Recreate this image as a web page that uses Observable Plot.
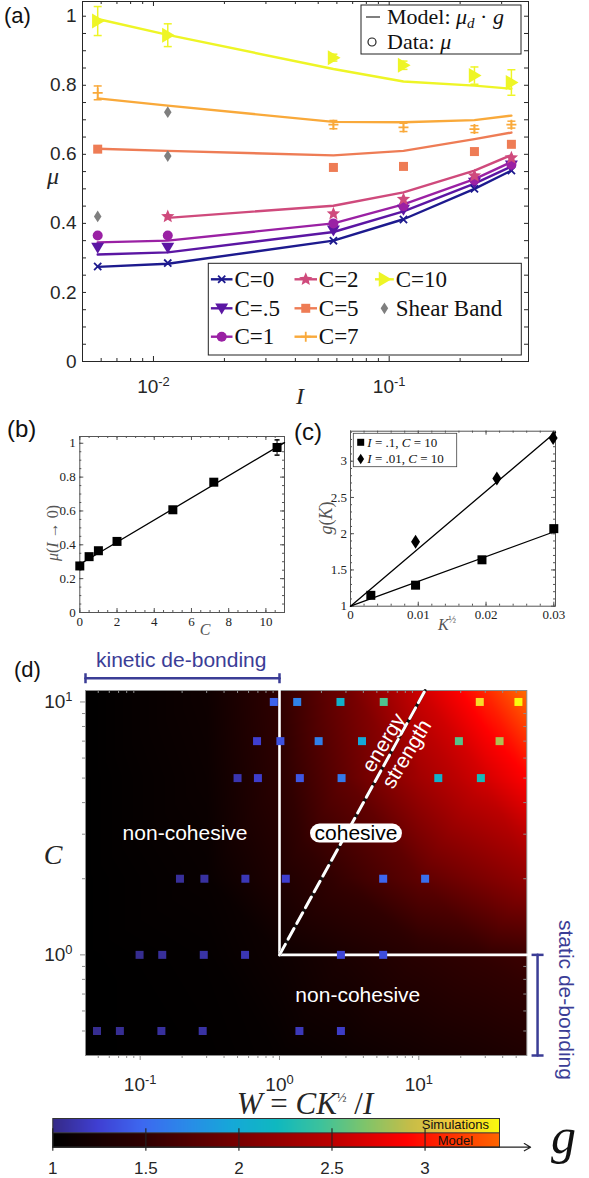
<!DOCTYPE html>
<html><head><meta charset="utf-8">
<script src="https://cdn.jsdelivr.net/npm/d3@7"></script>
<script src="https://cdn.jsdelivr.net/npm/@observablehq/plot@0.6"></script>
<style>
html,body{margin:0;padding:0;background:#fff;}
#root{position:relative;width:589px;height:1178px;overflow:hidden;background:#fff;}
.layer{position:absolute;left:0;width:589px;}
.layer svg{display:block;overflow:visible;}
</style></head>
<body><div id="root"></div>
<script>
// ================= DATA =================
// Panel (a): friction coefficient vs inertial number
const inertialI = [0.0058, 0.0115, 0.058, 0.115, 0.23, 0.33];
const modelC0  = [0.274, 0.283, 0.350, 0.412, 0.500, 0.553];
const modelC05 = [0.310, 0.316, 0.375, 0.435, 0.515, 0.565];
const modelC1  = [0.345, 0.350, 0.400, 0.455, 0.528, 0.578];
const modelC2  = [null, 0.416, 0.451, 0.490, 0.553, 0.598];
const modelC5  = [0.616, 0.610, 0.597, 0.610, 0.644, 0.663];
const modelC7  = [0.762, 0.741, 0.694, 0.693, 0.699, 0.712];
const modelC10 = [0.992, 0.946, 0.847, 0.811, 0.799, 0.790];
const dataC0  = [0.275, 0.285, 0.350, 0.411, 0.500, 0.553];
const dataC05 = [0.330, 0.330, 0.380, 0.440, 0.518, 0.568];
const dataC1  = [0.365, 0.365, 0.400, 0.450, 0.525, 0.570];
const dataC2  = [null, 0.420, 0.428, 0.470, 0.538, 0.590];
const dataC5  = [0.615, null, 0.562, 0.565, 0.608, 0.629];
const dataC7  = [0.778, null, 0.686, 0.678, 0.673, 0.686];
const dataC10 = [0.986, 0.945, 0.880, 0.858, 0.828, 0.808];
const errC7   = [0.020, null, 0.012, 0.012, 0.010, 0.010];
const errC10  = [0.042, 0.033, 0.010, 0.012, 0.025, 0.037];
const shearBandI  = [0.0058, 0.0115, 0.0115];
const shearBandMu = [0.420, 0.595, 0.722];
const seriesLabels = ["C=0", "C=.5", "C=1", "C=2", "C=5", "C=7", "C=10"];
const seriesColors = ["#1d1a8e", "#5b16a3", "#9a21a4", "#cf4a7c", "#ee7c55", "#f9a93a", "#eef526"];
const aTickLabelsY = [0, 0.2, 0.4, 0.6, 0.8, 1];
const aTickLabelsX = [0.01, 0.1];

// Panel (b): mu(I->0) vs C
const cohesionB = [0, 0.5, 1, 2, 5, 7.2, 10.6];
const muZeroB   = [0.275, 0.330, 0.365, 0.420, 0.607, 0.770, 0.975];
const muZeroErrB = [0, 0, 0, 0, 0, 0, 0.045];
const fitLineBC  = [0, 11];
const fitLineBMu = [0.285, 1.004];
const bTickLabelsX = [0, 2, 4, 6, 8, 10];
const bTickLabelsY = [0, 0.2, 0.4, 0.6, 0.8, 1];

// Panel (c): g(K) vs K^(1/2)
const sqrtKSquares  = [0.003, 0.0096, 0.0194, 0.0300];
const gSquares      = [1.15, 1.29, 1.64, 2.07];
const sqrtKDiamonds = [0.0096, 0.0216, 0.0299];
const gDiamonds     = [1.89, 2.76, 3.32];
const fitSqrtK      = [0, 0.03025];
const fitGSquares   = [1, 2.034];
const fitGDiamonds  = [1, 3.40];
const cTickLabelsX = [0, 0.01, 0.02, 0.03];
const cTickLabelsY = [1, 1.5, 2, 2.5, 3];

// Panel (d): simulations (squares) in the W-C plane
const simW = [0.91, 1.34, 2.74, 5.6, 27.4, 51.9,
              0.69, 1.015, 1.91, 3.91, 19.4, 38,
              0.50, 0.70, 1.40, 2.79, 13.8, 27.9,
              0.193, 0.289, 0.569, 1.11, 5.55, 11.1,
              0.099, 0.144, 0.286, 0.566, 2.76, 5.55,
              0.049, 0.0715, 0.142, 0.281, 1.39, 2.76];
const simC = [10, 10, 10, 10, 10, 10,
              7, 7, 7, 7, 7, 7,
              5, 5, 5, 5, 5, 5,
              2, 2, 2, 2, 2, 2,
              1, 1, 1, 1, 1, 1,
              0.5, 0.5, 0.5, 0.5, 0.5, 0.5];
const simG = [1.45, 1.66, 2.10, 2.50, 3.25, 3.55,
              1.23, 1.35, 1.65, 1.96, 2.53, 2.84,
              1.13, 1.22, 1.38, 1.60, 2.09, 2.24,
              1.06, 1.08, 1.15, 1.23, 1.47, 1.53,
              1.03, 1.06, 1.10, 1.14, 1.28, 1.33,
              1.03, 1.04, 1.07, 1.09, 1.16, 1.20];
// Model background g(W, C), read on a coarse grid
const modelGridW = [0.04, 0.3, 1, 3, 10, 30, 60];
const modelGridC = [0.4, 1, 2, 5, 11.2];
const modelGridG_C04 = [1.00, 1.02, 1.06, 1.12, 1.20, 1.27, 1.32];
const modelGridG_C1  = [1.00, 1.04, 1.14, 1.28, 1.42, 1.52, 1.58];
const modelGridG_C2  = [1.00, 1.08, 1.32, 1.56, 1.82, 2.05, 2.20];
const modelGridG_C5  = [1.00, 1.12, 1.45, 1.85, 2.30, 2.65, 2.90];
const modelGridG_C11 = [1.00, 1.15, 1.50, 1.95, 2.60, 3.10, 3.45];
// phase boundaries
const boundaryW = [1, 1, 59.6];
const boundaryC = [11.1, 1, 1];
const energyStrengthW = [1, 11.1];
const energyStrengthC = [1, 11.1];
const regionLabels = ["non-cohesive", "non-cohesive", "energy", "strength"];
const regionLabelW = [0.21, 3.65, 5.6, 8.18];
const regionLabelC = [3.03, 0.69, 6.9, 6.23];
const cohesiveLabelW = 3.54, cohesiveLabelC = 3.03;
const kineticW = [0.0405, 1], kineticC = [12.41, 12.41];
const staticW = [71.2, 71.2], staticC = [1, 0.4];
const dTickLabelsX = [0.1, 1, 10];
const dTickLabelsY = [1, 10];

// Colour bar
const cbTickLabels = [1, 1.5, 2, 2.5, 3];
const parulaRange = ["#352a87","#3f3fd2","#3d68f0","#2a8ae8","#16a8d8","#0fb8c0","#3dc29c","#80c46a","#c6bd48","#f5c83a","#f9fb0e"];
const modelDomain = [1, 1.5, 2, 2.5, 2.9, 3.4];
const modelRange = ["#000000", "#300000", "#780000", "#bc0000", "#ff0000", "#ff6600"];

// ================= HELPERS =================
const SANS = "Liberation Sans, Arial, Helvetica, sans-serif";
const SERIF = "Liberation Serif, Times New Roman, serif";
const INK = "#262626";
const BRACKET = "#3b3d96";
const NS = "http://www.w3.org/2000/svg";
const root = document.getElementById("root");
const parulaDomain = parulaRange.map((_, i) => 1 + 2.4 * i / (parulaRange.length - 1));

function supify(node) {
  node.querySelectorAll("text").forEach(t => {
    const m = /^10\^(-?\d+)$/.exec(t.textContent);
    if (!m) return;
    while (t.firstChild) t.removeChild(t.firstChild);
    const a = document.createElementNS(NS, "tspan"); a.textContent = "10";
    const b = document.createElementNS(NS, "tspan"); b.textContent = m[1];
    b.setAttribute("dy", "-0.55em"); b.setAttribute("font-size", "0.68em");
    t.append(a, b);
  });
}
function place(svg, top) {
  const d = document.createElement("div");
  d.className = "layer"; d.style.top = top + "px";
  d.appendChild(svg); root.appendChild(d); supify(svg);
}
const sym = f => ({draw(c, size) { f(c, Math.sqrt(size / Math.PI)); }});
const symTriDown = sym((c, r) => { c.moveTo(-r, -0.75 * r); c.lineTo(r, -0.75 * r); c.lineTo(0, 0.95 * r); c.closePath(); });
const symTriRight = sym((c, r) => { c.moveTo(-0.75 * r, -r); c.lineTo(-0.75 * r, r); c.lineTo(0.95 * r, 0); c.closePath(); });
const symSquare = sym((c, r) => { c.rect(-r, -r, 2 * r, 2 * r); });
const symDiamond = sym((c, r) => { c.moveTo(0, -1.4 * r); c.lineTo(0.9 * r, 0); c.lineTo(0, 1.4 * r); c.lineTo(-0.9 * r, 0); c.closePath(); });
const symStar = sym((c, r) => { for (let k = 0; k < 10; k++) { const a = -Math.PI / 2 + k * Math.PI / 5, rr = k % 2 ? 0.45 * r : r; const x = rr * Math.cos(a), y = rr * Math.sin(a); if (k) c.lineTo(x, y); else c.moveTo(x, y); } c.closePath(); });
const symTimes = sym((c, r) => { c.moveTo(-r, -r); c.lineTo(r, r); c.moveTo(-r, r); c.lineTo(r, -r); });
const symPlus = sym((c, r) => { c.moveTo(-r, 0); c.lineTo(r, 0); c.moveTo(0, -r); c.lineTo(0, r); });
const symCircle = sym((c, r) => { c.moveTo(r, 0); c.arc(0, 0, r, 0, 2 * Math.PI); });
const symHLine = sym((c, r) => { c.moveTo(-r, 0); c.lineTo(r, 0); });
const symVLine = sym((c, r) => { c.moveTo(0, -r); c.lineTo(0, r); });
const symRoundBox = {draw(c) { const w = 46, h = 9.5, q = 9.5; c.moveTo(-w + q, -h); c.lineTo(w - q, -h); c.arcTo(w, -h, w, 0, q); c.arcTo(w, h, w - q, h, q); c.lineTo(-w + q, h); c.arcTo(-w, h, -w, 0, q); c.arcTo(-w, -h, -w + q, -h, q); c.closePath(); }};

function logMinor(lo, hi) { const out = []; for (let e = -3; e <= 2; e++) for (let k = 2; k <= 9; k++) { const v = +(k * Math.pow(10, e)).toPrecision(6); if (v > lo * 1.0001 && v < hi * 0.9999) out.push(v); } return out; }
function linTicks(lo, hi, step) { const out = []; const n = Math.round((hi - lo) / step); for (let i = 0; i <= n; i++) out.push(+(lo + i * step).toFixed(6)); return out; }
const rowsOf = (xs, ys, extra) => xs.map((x, i) => ({x, y: ys[i], e: extra ? extra[i] : null})).filter(d => d.y != null);
const lab = d => "10^" + Math.round(Math.log10(d));

// ================= PANEL (a) =================
const aW = 589 - 82 - 61, aH = 410 - 1 - 49;
const aSym = [symTimes, symTriDown, symCircle, symStar, symSquare, symPlus, symTriRight];
const aR = [3.6, 6.5, 5, 7, 4.5, 5, 7.5];
const aStroked = [true, false, false, false, false, true, false];
const aModels = [modelC0, modelC05, modelC1, modelC2, modelC5, modelC7, modelC10];
const aData = [dataC0, dataC05, dataC1, dataC2, dataC5, dataC7, dataC10];
const aMinorX = logMinor(0.005, 0.39);
const aTicksY = linTicks(0, 1.0, 0.05);
const marksA = [
  Plot.tickX(aMinorX, {x: d => d, insetTop: aH - 3, stroke: INK}),
  Plot.tickX(aMinorX, {x: d => d, insetBottom: aH - 3, stroke: INK}),
  Plot.tickX(aTickLabelsX, {x: d => d, insetTop: aH - 5, stroke: INK}),
  Plot.tickX(aTickLabelsX, {x: d => d, insetBottom: aH - 5, stroke: INK}),
  Plot.tickY(aTicksY, {y: d => d, insetRight: aW - 4, stroke: INK}),
  Plot.tickY(aTicksY, {y: d => d, insetLeft: aW - 4, stroke: INK}),
  Plot.frame({stroke: INK, strokeWidth: 1}),
  Plot.axisX(aTickLabelsX, {tickSize: 0, tickPadding: 18, fontSize: 19, label: null, tickFormat: lab}),
  Plot.axisY(aTickLabelsY, {tickSize: 0, tickPadding: 6, fontSize: 19, label: null, tickFormat: d => String(d)})
];
aModels.forEach((m, k) => marksA.push(Plot.line(rowsOf(inertialI, m), {x: "x", y: "y", stroke: seriesColors[k], strokeWidth: 2.4})));
[[dataC7, errC7, 5], [dataC10, errC10, 6]].forEach(([d, e, k]) => {
  const rows = rowsOf(inertialI, d, e).filter(r => r.e);
  marksA.push(Plot.ruleX(rows, {x: "x", y1: r => r.y - r.e, y2: r => r.y + r.e, stroke: seriesColors[k], strokeWidth: 1.5}));
  marksA.push(Plot.dot(rows, {x: "x", y: r => r.y - r.e, symbol: symHLine, r: 4, stroke: seriesColors[k], strokeWidth: 1.5}));
  marksA.push(Plot.dot(rows, {x: "x", y: r => r.y + r.e, symbol: symHLine, r: 4, stroke: seriesColors[k], strokeWidth: 1.5}));
});
marksA.push(Plot.dot(rowsOf(shearBandI, shearBandMu), {x: "x", y: "y", symbol: symDiamond, r: 4.2, fill: "#7f7f7f"}));
aData.forEach((d, k) => marksA.push(Plot.dot(rowsOf(inertialI, d), aStroked[k]
  ? {x: "x", y: "y", symbol: aSym[k], r: aR[k], stroke: seriesColors[k], strokeWidth: 1.8, fill: "none"}
  : {x: "x", y: "y", symbol: aSym[k], r: aR[k], fill: seriesColors[k], stroke: "none"})));
place(Plot.plot({
  width: 589, height: 410, marginLeft: 82, marginRight: 61, marginTop: 1, marginBottom: 49,
  style: {background: "transparent", overflow: "visible", fontFamily: SANS, color: INK},
  x: {type: "log", domain: [0.005, 0.39]}, y: {domain: [0, 1.0426]},
  marks: marksA
}), 0);

// ================= PANEL (b) =================
const bW = 589 - 79.3 - 305, bH = 225 - 21 - 28;
const bRows = rowsOf(cohesionB, muZeroB, muZeroErrB);
place(Plot.plot({
  width: 589, height: 225, marginLeft: 79.3, marginRight: 305, marginTop: 21, marginBottom: 28,
  style: {background: "transparent", overflow: "visible", fontFamily: SERIF, color: "#222"},
  x: {domain: [0, 11]}, y: {domain: [0, 1.04]},
  marks: [
    Plot.tickX(linTicks(0, 11, 0.5), {x: d => d, insetTop: bH - 2, stroke: "#555"}),
    Plot.tickX(linTicks(0, 11, 0.5), {x: d => d, insetBottom: bH - 2, stroke: "#555"}),
    Plot.tickX(bTickLabelsX, {x: d => d, insetTop: bH - 4, stroke: "#555"}),
    Plot.tickX(bTickLabelsX, {x: d => d, insetBottom: bH - 4, stroke: "#555"}),
    Plot.tickY(linTicks(0, 1.0, 0.05), {y: d => d, insetRight: bW - 2, stroke: "#555"}),
    Plot.tickY(linTicks(0, 1.0, 0.05), {y: d => d, insetLeft: bW - 2, stroke: "#555"}),
    Plot.tickY(bTickLabelsY, {y: d => d, insetRight: bW - 4, stroke: "#555"}),
    Plot.tickY(bTickLabelsY, {y: d => d, insetLeft: bW - 4, stroke: "#555"}),
    Plot.frame({stroke: "#555"}),
    Plot.axisX(bTickLabelsX, {tickSize: 0, tickPadding: 4, fontSize: 13, label: null, tickFormat: d => String(d)}),
    Plot.axisY(bTickLabelsY, {tickSize: 0, tickPadding: 4, fontSize: 13, label: null, tickFormat: d => String(d)}),
    Plot.line(rowsOf(fitLineBC, fitLineBMu), {x: "x", y: "y", stroke: "#000", strokeWidth: 1.3}),
    Plot.ruleX(bRows.filter(r => r.e), {x: "x", y1: r => r.y - r.e, y2: r => r.y + r.e, stroke: "#000"}),
    Plot.dot(bRows.filter(r => r.e), {x: "x", y: r => r.y - r.e, symbol: symHLine, r: 2.5, stroke: "#000"}),
    Plot.dot(bRows.filter(r => r.e), {x: "x", y: r => r.y + r.e, symbol: symHLine, r: 2.5, stroke: "#000"}),
    Plot.dot(bRows, {x: "x", y: "y", symbol: symSquare, r: 4.5, fill: "#000", stroke: "none"})
  ]
}), 415);

// ================= PANEL (c) =================
const cW = 589 - 350 - 34, cH = 225 - 15.7 - 34.3;
place(Plot.plot({
  width: 589, height: 225, marginLeft: 350, marginRight: 34, marginTop: 15.7, marginBottom: 34.3,
  style: {background: "transparent", overflow: "visible", fontFamily: SERIF, color: "#222"},
  x: {domain: [0, 0.03025]}, y: {domain: [1, 3.414]},
  marks: [
    Plot.tickX(linTicks(0, 0.03, 0.002), {x: d => d, insetTop: cH - 2, stroke: "#555"}),
    Plot.tickX(linTicks(0, 0.03, 0.002), {x: d => d, insetBottom: cH - 2, stroke: "#555"}),
    Plot.tickX(cTickLabelsX, {x: d => d, insetTop: cH - 4, stroke: "#555"}),
    Plot.tickX(cTickLabelsX, {x: d => d, insetBottom: cH - 4, stroke: "#555"}),
    Plot.tickY(linTicks(1, 3.4, 0.1), {y: d => d, insetRight: cW - 2, stroke: "#555"}),
    Plot.tickY(linTicks(1, 3.4, 0.1), {y: d => d, insetLeft: cW - 2, stroke: "#555"}),
    Plot.tickY(cTickLabelsY, {y: d => d, insetRight: cW - 4, stroke: "#555"}),
    Plot.tickY(cTickLabelsY, {y: d => d, insetLeft: cW - 4, stroke: "#555"}),
    Plot.frame({stroke: "#555"}),
    Plot.axisX(cTickLabelsX, {tickSize: 0, tickPadding: 4, fontSize: 13, label: null, tickFormat: d => String(d)}),
    Plot.axisY(cTickLabelsY, {tickSize: 0, tickPadding: 3.5, fontSize: 13, label: null, tickFormat: d => String(d)}),
    Plot.line(rowsOf(fitSqrtK, fitGSquares), {x: "x", y: "y", stroke: "#000", strokeWidth: 1.3}),
    Plot.line(rowsOf(fitSqrtK, fitGDiamonds), {x: "x", y: "y", stroke: "#000", strokeWidth: 1.3}),
    Plot.dot(rowsOf(sqrtKSquares, gSquares), {x: "x", y: "y", symbol: symSquare, r: 4.5, fill: "#000", stroke: "none"}),
    Plot.dot(rowsOf(sqrtKDiamonds, gDiamonds), {x: "x", y: "y", symbol: symDiamond, r: 5, fill: "#000", stroke: "none"})
  ]
}), 415);

// ================= PANEL (d) =================
const dGeom = {width: 589, height: 478, marginLeft: 85, marginRight: 62.7, marginTop: 50, marginBottom: 63};
const dW = 589 - 85 - 62.7, dH = 478 - 50 - 63;
const dX = {type: "log", domain: [0.0405, 59.6]}, dY = {type: "log", domain: [0.40, 11.1]};
const modelGridRows = [];
[modelGridG_C04, modelGridG_C1, modelGridG_C2, modelGridG_C5, modelGridG_C11].forEach((row, j) =>
  row.forEach((g, i) => modelGridRows.push({W: modelGridW[i], C: modelGridC[j], g})));
place(Plot.plot({
  ...dGeom,
  style: {background: "transparent", overflow: "visible"},
  x: {...dX, axis: null}, y: {...dY, axis: null},
  color: {type: "linear", domain: modelDomain, range: modelRange, clamp: true},
  marks: [Plot.raster(modelGridRows, {x: "W", y: "C", fill: "g", x1: 0.0405, x2: 59.6, y1: 0.40, y2: 11.1, interpolate: "barycentric"})]
}), 640);

const simRows = simW.map((W, i) => ({W, C: simC[i], g: simG[i]}));
const GRAY = "#8c8c8c";
const dMinorX = logMinor(0.0405, 59.6), dMinorY = logMinor(0.40, 11.1);
const labelRows = regionLabels.map((t, i) => ({t, W: regionLabelW[i], C: regionLabelC[i]}));
place(Plot.plot({
  ...dGeom,
  style: {background: "transparent", overflow: "visible", fontFamily: SANS, color: INK},
  x: dX, y: dY,
  color: {type: "linear", domain: parulaDomain, range: parulaRange, clamp: true},
  marks: [
    Plot.tickX(dMinorX, {x: d => d, insetTop: dH, insetBottom: -3, stroke: GRAY}),
    Plot.tickX(dTickLabelsX, {x: d => d, insetTop: dH, insetBottom: -5, stroke: GRAY}),
    Plot.tickX(dMinorX, {x: d => d, insetBottom: dH - 3, stroke: GRAY}),
    Plot.tickY(dMinorY, {y: d => d, insetRight: dW, insetLeft: -3, stroke: GRAY}),
    Plot.tickY(dTickLabelsY, {y: d => d, insetRight: dW, insetLeft: -5, stroke: GRAY}),
    Plot.tickY(dMinorY, {y: d => d, insetLeft: dW - 3, stroke: GRAY}),
    Plot.frame({stroke: GRAY}),
    Plot.axisX(dTickLabelsX, {tickSize: 0, tickPadding: 22, fontSize: 19, label: null, tickFormat: lab}),
    Plot.axisY(dTickLabelsY, {tickSize: 0, tickPadding: 13, fontSize: 19, label: null, tickFormat: lab}),
    Plot.line(rowsOf(boundaryW, boundaryC), {x: "x", y: "y", stroke: "white", strokeWidth: 2.6}),
    Plot.line(rowsOf(energyStrengthW, energyStrengthC), {x: "x", y: "y", stroke: "#111", strokeWidth: 3}),
    Plot.line(rowsOf(energyStrengthW, energyStrengthC), {x: "x", y: "y", stroke: "white", strokeWidth: 3, strokeDasharray: "12,6"}),
    Plot.dot(simRows, {x: "W", y: "C", fill: "g", symbol: symSquare, r: 4, stroke: "none"}),
    Plot.text(labelRows.slice(0, 2), {x: "W", y: "C", text: "t", fill: "white", fontSize: 21}),
    Plot.text(labelRows.slice(2), {x: "W", y: "C", text: "t", fill: "white", fontSize: 21, rotate: -59}),
    Plot.dot([{W: cohesiveLabelW, C: cohesiveLabelC}], {x: "W", y: "C", symbol: symRoundBox, r: 3, fill: "white", stroke: "none"}),
    Plot.text([{W: cohesiveLabelW, C: cohesiveLabelC, t: "cohesive"}], {x: "W", y: "C", text: "t", fill: "#000", fontSize: 21}),
    Plot.line(rowsOf(kineticW, kineticC), {x: "x", y: "y", stroke: BRACKET, strokeWidth: 2.5}),
    Plot.dot(rowsOf(kineticW, kineticC), {x: "x", y: "y", symbol: symVLine, r: 5, stroke: BRACKET, strokeWidth: 2.5}),
    Plot.line(rowsOf(staticW, staticC), {x: "x", y: "y", stroke: BRACKET, strokeWidth: 2.5}),
    Plot.dot(rowsOf(staticW, staticC), {x: "x", y: "y", symbol: symHLine, r: 6, stroke: BRACKET, strokeWidth: 2.5})
  ]
}), 640);

// ================= COLOUR BAR =================
const cbGeom = {width: 589, height: 68, marginLeft: 52.3, marginRight: 90, marginTop: 8, marginBottom: 31.3};
place(Plot.plot({
  ...cbGeom,
  style: {background: "transparent", overflow: "visible"},
  x: {domain: [1, 3.4], axis: null}, y: {domain: [0, 2], axis: null},
  color: {type: "linear", domain: parulaDomain, range: parulaRange, clamp: true},
  marks: [Plot.raster({x1: 1, x2: 3.4, y1: 1, y2: 2, fill: (x, y) => x})]
}), 1110);
place(Plot.plot({
  ...cbGeom,
  style: {background: "transparent", overflow: "visible", fontFamily: SANS, color: INK},
  x: {domain: [1, 3.4]}, y: {domain: [0, 2], axis: null},
  color: {type: "linear", domain: modelDomain, range: modelRange, clamp: true},
  marks: [
    Plot.raster({x1: 1, x2: 3.4, y1: 0, y2: 1, fill: (x, y) => x}),
    Plot.frame({stroke: "#333"}),
    Plot.ruleY([1], {stroke: "#333"}),
    Plot.ruleX(cbTickLabels, {x: d => d, y1: () => -0.28, y2: () => 1.28, stroke: "#222", strokeWidth: 1.1}),
    Plot.arrow([{a: 1, b: 3.567}], {x1: "a", x2: "b", y1: () => 0, y2: () => 0, stroke: "#222", strokeWidth: 1.2, headLength: 9}),
    Plot.axisX(cbTickLabels, {tickSize: 0, tickPadding: 15, fontSize: 17, label: null, tickFormat: d => String(d)}),
    Plot.text([{g: 3.163, y: 1.55, t: "Simulations"}, {g: 3.163, y: 0.45, t: "Model"}], {x: "g", y: "y", text: "t", fill: "#111", fontSize: 13})
  ]
}), 1110);

// ================= LABELS & LEGENDS (overlay) =================
const deco = document.createElementNS(NS, "svg");
deco.setAttribute("width", 589); deco.setAttribute("height", 1178);
Object.assign(deco.style, {position: "absolute", left: "0", top: "0", overflow: "visible"});
root.appendChild(deco);
function el(tag, attrs, parent = deco) { const e = document.createElementNS(NS, tag); for (const k in attrs) e.setAttribute(k, attrs[k]); parent.appendChild(e); return e; }
function rich(attrs, segs) { const t = el("text", attrs); for (const s of segs) { const sp = el("tspan", s[1] || {}, t); sp.textContent = s[0]; } return t; }
function symPath(s, r, cx, cy, attrs) { const p = d3.path(); s.draw(p, Math.PI * r * r); return el("path", {d: p.toString(), transform: `translate(${cx},${cy})`, ...attrs}); }
const IT = {"font-style": "italic"};

// panel letters
rich({x: 4, y: 23, "font-family": SANS, "font-size": 22, fill: "#111"}, [["(a)"]]);
rich({x: 7, y: 437, "font-family": SANS, "font-size": 24, fill: "#111"}, [["(b)"]]);
rich({x: 294, y: 440, "font-family": SANS, "font-size": 24, fill: "#111"}, [["(c)"]]);
rich({x: 14, y: 677, "font-family": SANS, "font-size": 22, fill: "#111"}, [["(d)"]]);

// panel (a) axis titles
rich({x: 53, y: 184, "text-anchor": "middle", "font-family": SERIF, "font-size": 24, fill: INK}, [["μ", IT]]);
rich({x: 300, y: 404, "text-anchor": "middle", "font-family": SERIF, "font-size": 24, fill: INK}, [["I", IT]]);

// panel (a) model/data legend
el("rect", {x: 361, y: 5, width: 160, height: 49, fill: "white", stroke: "#222", "stroke-width": 1});
el("line", {x1: 366, x2: 380, y1: 17, y2: 17, stroke: "#555", "stroke-width": 1.5});
rich({x: 387, y: 24, "font-family": SERIF, "font-size": 22, fill: "#111"},
  [["Model:  "], ["μ", IT], ["d", {"font-style": "italic", "font-size": "15", dy: "4"}], [" · ", {dy: "-4"}], ["g", IT]]);
el("circle", {cx: 372, cy: 42, r: 4, fill: "none", stroke: "#222", "stroke-width": 1.2});
rich({x: 387, y: 49, "font-family": SERIF, "font-size": 22, fill: "#111"}, [["Data:  "], ["μ", IT]]);

// panel (a) series legend
el("rect", {x: 208.3, y: 263.3, width: 313, height: 91.7, fill: "white", stroke: "#222", "stroke-width": 1});
const legCols = [[210.9, 232.5, 234.5], [294.5, 317, 318.8], [375, 393.8, 395.7]];
const legRows = [279.3, 308.3, 336.7];
const legLayout = [[0, 0, 0], [3, 1, 0], [6, 2, 0], [1, 0, 1], [4, 1, 1], [-1, 2, 1], [2, 0, 2], [5, 1, 2]];
legLayout.forEach(([k, col, row]) => {
  const [xa, xb, xt] = legCols[col], cy = legRows[row], cx = (xa + xb) / 2;
  if (k >= 0) {
    el("line", {x1: xa, x2: xb, y1: cy, y2: cy, stroke: seriesColors[k], "stroke-width": 2.4});
    symPath(aSym[k], aR[k], cx, cy, aStroked[k] ? {fill: "none", stroke: seriesColors[k], "stroke-width": 1.8} : {fill: seriesColors[k]});
    rich({x: xt, y: cy + 7.5, "font-family": SERIF, "font-size": 23, fill: "#111"}, [[seriesLabels[k]]]);
  } else {
    symPath(symDiamond, 4.2, cx, cy, {fill: "#7f7f7f"});
    rich({x: xt, y: cy + 7.5, "font-family": SERIF, "font-size": 23, fill: "#111"}, [["Shear Band"]]);
  }
});

// panel (b) titles
rich({transform: "translate(52,533) rotate(-90)", "text-anchor": "middle", "dominant-baseline": "central", "font-family": SERIF, "font-size": 16, fill: "#555"},
  [["μ", IT], ["("], ["I", IT], [" → 0)"]]);
rich({x: 205, y: 635, "text-anchor": "middle", "font-family": SERIF, "font-size": 16, fill: "#555"}, [["C", IT]]);

// panel (c) titles and legend
rich({transform: "translate(326,518) rotate(-90)", "text-anchor": "middle", "dominant-baseline": "central", "font-family": SERIF, "font-size": 18, fill: "#555"},
  [["g", IT], ["("], ["K", IT], [")"]]);
rich({x: 447, y: 630, "text-anchor": "middle", "font-family": SERIF, "font-size": 16, fill: "#555"},
  [["K", IT], ["½", {"font-size": "10", dy: "-7"}]]);
el("rect", {x: 353.3, y: 433.3, width: 103.4, height: 33.4, fill: "white", stroke: "#444", "stroke-width": 0.8});
symPath(symSquare, 3.5, 360.7, 442.3, {fill: "#000"});
symPath(symDiamond, 3.8, 360.7, 459, {fill: "#000"});
rich({x: 367.3, y: 446.6, "font-family": SERIF, "font-size": 13, fill: "#111"}, [["I", IT], [" = .1, "], ["C", IT], [" = 10"]]);
rich({x: 367.3, y: 463.3, "font-family": SERIF, "font-size": 13, fill: "#111"}, [["I", IT], [" = .01, "], ["C", IT], [" = 10"]]);

// panel (d) titles and annotations
rich({x: 53, y: 864, "text-anchor": "middle", "font-family": SERIF, "font-size": 28, fill: INK}, [["C", IT]]);
rich({x: 305, y: 1114, "text-anchor": "middle", "font-family": SERIF, "font-size": 31, fill: INK},
  [["W", IT], [" = "], ["CK", IT], ["½", {"font-size": "13", dy: "-12"}], [" /", {dy: "12"}], ["I", IT]]);
rich({x: 96, y: 667, "font-family": SANS, "font-size": 21, fill: BRACKET}, [["kinetic de-bonding"]]);
rich({transform: "translate(567,1000) rotate(90)", "text-anchor": "middle", "dominant-baseline": "central", "font-family": SANS, "font-size": 21, fill: BRACKET}, [["static de-bonding"]]);
rich({x: 551, y: 1153, "font-family": SERIF, "font-size": 50, fill: "#111"}, [["g", IT]]);
</script></body></html>
